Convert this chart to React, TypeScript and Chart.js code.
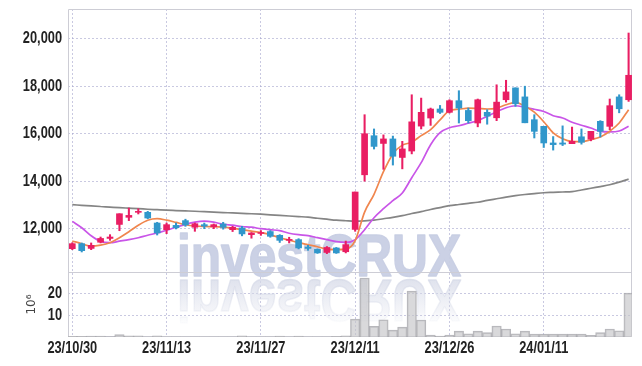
import React, { useEffect, useRef } from 'react';
import { Chart, registerables } from 'chart.js';

Chart.register(...registerables);

// ---- data ----
const DATES = [
  '23/10/30', '23/10/31', '23/11/01', '23/11/02', '23/11/03', '23/11/06', '23/11/07', '23/11/08', '23/11/09', '23/11/10',
  '23/11/13', '23/11/14', '23/11/15', '23/11/16', '23/11/17', '23/11/20', '23/11/21', '23/11/22', '23/11/23', '23/11/24',
  '23/11/27', '23/11/28', '23/11/29', '23/11/30', '23/12/01', '23/12/04', '23/12/05', '23/12/06', '23/12/07', '23/12/08',
  '23/12/11', '23/12/12', '23/12/13', '23/12/14', '23/12/15', '23/12/18', '23/12/19', '23/12/20', '23/12/21', '23/12/22',
  '23/12/26', '23/12/27', '23/12/28', '24/01/02', '24/01/03', '24/01/04', '24/01/05', '24/01/08', '24/01/09', '24/01/10',
  '24/01/11', '24/01/12', '24/01/15', '24/01/16', '24/01/17', '24/01/18', '24/01/19', '24/01/22', '24/01/23', '24/01/24',
];

const OPEN = [
  11160, 11370, 11170, 11430, 11590, 12180, 12480, 12690, 12690, 12240,
  11960, 12140, 12340, 12060, 12170, 12080, 12200, 11960, 12030, 11750,
  11800, 11880, 11720, 11510, 11540, 11230, 11130, 11000, 11190, 11030,
  11970, 14270, 15915, 15590, 15780, 15000, 15270, 16320, 16660, 17040,
  16900, 17390, 16980, 16450, 16900, 16670, 17430, 17930, 17550, 16590,
  16310, 15610, 15610, 15580, 15870, 15770, 16520, 16310, 17550, 17430,
];
const HIGH = [
  11410, 11400, 11400, 11650, 11750, 12630, 12870, 12840, 12730, 12270,
  12240, 12240, 12400, 12240, 12240, 12200, 12270, 12100, 12100, 11840,
  11920, 11920, 11750, 11640, 11580, 11300, 11150, 11250, 11210, 11480,
  13545, 16800, 16200, 15950, 15900, 15680, 17640, 17500, 17080, 17190,
  17430, 17810, 17080, 17460, 17010, 18060, 18250, 17930, 18000, 16800,
  16310, 15880, 16330, 16280, 16200, 16100, 16550, 17460, 17640, 20240,
];
const LOW = [
  11116, 11020, 11116, 11400, 11510, 11915, 12340, 12620, 12420, 11735,
  11790, 11990, 12100, 11890, 12000, 12000, 11980, 11880, 11700, 11600,
  11720, 11640, 11420, 11400, 11150, 11090, 10960, 10950, 10960, 10980,
  11890, 14000, 15355, 14500, 14680, 14520, 15150, 16200, 16350, 16850,
  16870, 16450, 16450, 16290, 16400, 16550, 17330, 17150, 16460, 15820,
  15420, 15310, 15500, 15580, 15560, 15700, 15860, 16170, 16880, 17360,
];
const CLOSE = [
  11370, 11074, 11300, 11590, 11650, 12630, 12560, 12730, 12450, 11820,
  12170, 12040, 12160, 12210, 12110, 12170, 12060, 12060, 11780, 11820,
  11840, 11680, 11510, 11550, 11190, 11170, 10980, 11210, 10980, 11330,
  13545, 16000, 15465, 15780, 15050, 15360, 16500, 16900, 17040, 16900,
  17390, 17080, 16550, 17430, 16740, 17330, 17760, 17260, 16460, 16100,
  15610, 15540, 15560, 15680, 15640, 16100, 16100, 17180, 17050, 18460,
];
// volume in millions
const VOLUME = [
  0.3, 0.3, 0.4, 0.4, 0.2, 1.1, 0.5, 0.5, 0.1, 0.5,
  0.1, 0.1, 0.1, 0.1, 0.1, 0.1, 0.1, 0.1, 0.5, 0.1,
  0.1, 0.1, 0.4, 0.1, 0.4, 0.1, 0.1, 0.1, 0.3, 0.5,
  8.3, 27.4, 4.9, 8.0, 3.2, 4.6, 21.3, 7.9, 0.9, 0.4,
  0.9, 2.7, 1.5, 2.7, 2.0, 5.1, 3.7, 1.5, 2.7, 1.3,
  1.3, 1.3, 1.3, 1.3, 1.3, 0.8, 2.0, 3.7, 2.9, 20.4,
];
const MA_SHORT = [
  11482, 11368, 11263, 11305, 11410, 11620, 11874, 12147, 12358, 12421,
  12358, 12265, 12168, 12114, 12093, 12084, 12063, 12021, 11958, 11895,
  11832, 11747, 11621, 11516, 11411, 11326, 11242, 11137, 11116, 11137,
  11500, 12700, 13450, 14400, 15150, 15520, 15640, 15920, 16170, 16580,
  16970, 17030, 17080, 17065, 17040, 17080, 17220, 17317, 17157, 16905,
  16505, 16040, 15790, 15675, 15663, 15747, 15860, 16105, 16450, 17010,
];
const MA_MID = [
  12307, 12042, 11705, 11465, 11411, 11474, 11537, 11621, 11726, 11819,
  11937, 12063, 12181, 12274, 12316, 12274, 12189, 12147, 12093, 12063,
  12000, 11958, 11916, 11810, 11747, 11705, 11621, 11537, 11453, 11423,
  11537, 11958, 12463, 12842, 13179, 13503, 14147, 14780, 15536, 16042,
  16252, 16336, 16442, 16547, 16736, 16926, 17094, 17178, 17115, 17031,
  16938, 16757, 16660, 16484, 16357, 16240, 16096, 16075, 16113, 16315,
];
const MA_LONG = [
  13010, 12985, 12960, 12935, 12910, 12885, 12865, 12845, 12820, 12800,
  12780, 12765, 12750, 12735, 12715, 12700, 12680, 12665, 12645, 12630,
  12610, 12585, 12560, 12535, 12510, 12485, 12440, 12400, 12360, 12335,
  12315, 12330, 12360, 12420, 12480, 12550, 12640, 12720, 12810, 12890,
  12970, 13020, 13070, 13115, 13190, 13260, 13330, 13390, 13440, 13480,
  13515, 13530, 13545, 13560, 13630, 13705, 13775, 13850, 13960, 14090,
];
const X_TICK_INDEX = [0, 10, 20, 30, 40, 50];
const PRICE_TICKS = [12000, 14000, 16000, 18000, 20000];
const VOLUME_TICKS = [10, 20];
const WATERMARK = 'investCRUX';

const RED = '#e91e63';
const BLUE = '#3197cb';
const LABEL_FONT = "bold 16px 'Liberation Sans', Arial, sans-serif";
const LABEL_SCALE = 0.8;
const GRID = {
  color: 'rgba(165,165,205,0.6)',
  lineWidth: 1,
  drawTicks: false,
  offset: false,
};
const BORDER = { display: false, dash: [2, 2] };

const watermarkPlugin = {
  id: 'watermark',
  beforeDatasetsDraw(chart: any) {
    const ctx = chart.ctx as CanvasRenderingContext2D;
    ctx.save();
    ctx.font = "bold 60px 'Liberation Sans', Arial, sans-serif";
    ctx.textBaseline = 'alphabetic';
    ctx.lineJoin = 'round';
    const w = ctx.measureText(WATERMARK).width;
    const sx = 284 / w;
    ctx.translate(177, 276);
    ctx.scale(sx, 1);
    ctx.fillStyle = 'rgba(200,207,228,0.95)';
    ctx.strokeStyle = 'rgba(200,207,228,0.95)';
    ctx.lineWidth = 1.6;
    ctx.fillText(WATERMARK, 0, 0);
    ctx.strokeText(WATERMARK, 0, 0);
    ctx.translate(0, 4);
    ctx.scale(1, -1);
    const g = ctx.createLinearGradient(0, 0, 0, -44);
    g.addColorStop(0, 'rgba(214,218,232,0.75)');
    g.addColorStop(1, 'rgba(214,218,232,0.05)');
    ctx.fillStyle = g;
    ctx.strokeStyle = g;
    ctx.fillText(WATERMARK, 0, 0);
    ctx.strokeText(WATERMARK, 0, 0);
    ctx.restore();
  },
};

const framePlugin = {
  id: 'frame',
  beforeDatasetsDraw(chart: any) {
    const ctx = chart.ctx as CanvasRenderingContext2D;
    const { left, right, top, bottom } = chart.chartArea;
    const mid = chart.scales.y.bottom;
    const L = Math.round(left) + 0.5;
    const R = Math.round(right) - 0.5;
    const T = Math.round(top) + 0.5;
    const B = Math.round(bottom) - 0.5;
    const M = Math.round(mid) + 0.5;
    ctx.save();
    ctx.strokeStyle = '#cdcdd5';
    ctx.lineWidth = 1;
    ctx.beginPath();
    ctx.moveTo(L, T);
    ctx.lineTo(R, T);
    ctx.lineTo(R, B);
    ctx.lineTo(L, B);
    ctx.closePath();
    ctx.moveTo(L, M);
    ctx.lineTo(R, M);
    ctx.stroke();
    ctx.restore();
  },
};

// tick labels drawn in a narrow (horizontally condensed) face
const labelPlugin = {
  id: 'labels',
  afterDraw(chart: any) {
    const ctx = chart.ctx as CanvasRenderingContext2D;
    const drawText = (text: string, x: number, y: number, align: 'right' | 'center') => {
      ctx.save();
      ctx.translate(x, y);
      ctx.scale(LABEL_SCALE, 1);
      ctx.textAlign = align;
      ctx.fillText(text, 0, 0);
      ctx.restore();
    };
    ctx.save();
    ctx.font = LABEL_FONT;
    ctx.fillStyle = '#222';
    ctx.textBaseline = 'middle';
    const y = chart.scales.y;
    const yv = chart.scales.yv;
    const x = chart.scales.x;
    const yRight = y.right - 6;
    PRICE_TICKS.forEach((v) => drawText(v.toLocaleString('en-US'), yRight, y.getPixelForValue(v), 'right'));
    VOLUME_TICKS.forEach((v) => drawText(String(v), yRight, yv.getPixelForValue(v), 'right'));
    X_TICK_INDEX.forEach((i) => drawText(DATES[i], x.getPixelForValue(i), x.top + 12, 'center'));
    ctx.restore();
  },
};

export default function App() {
  const ref = useRef<HTMLCanvasElement>(null);

  useEffect(() => {
    if (!ref.current) return;
    const idx = DATES.map((_, i) => i);
    const colors = idx.map((i) => (CLOSE[i] >= OPEN[i] ? RED : BLUE));
    const line = (vals: number[], color: string, order: number) => ({
      type: 'line' as const,
      data: idx.map((i) => ({ x: i, y: vals[i] })),
      borderColor: color,
      borderWidth: 1.7,
      pointRadius: 0,
      cubicInterpolationMode: 'monotone' as const,
      yAxisID: 'y',
      order,
    });

    const chart = new Chart(ref.current, {
      type: 'bar',
      data: {
        datasets: [
          {
            type: 'bar',
            data: idx.map((i) => ({ x: i, y: VOLUME[i] })),
            backgroundColor: 'rgba(196,196,200,0.65)',
            borderColor: 'rgba(165,165,170,0.8)',
            borderWidth: 1,
            barPercentage: 1,
            categoryPercentage: 1,
            grouped: false,
            yAxisID: 'yv',
            order: 10,
          } as any,
          line(MA_LONG, '#858585', 5),
          line(MA_MID, '#c955e8', 4),
          line(MA_SHORT, '#f0864e', 3),
          {
            type: 'bar',
            data: idx.map((i) => ({ x: i, y: [LOW[i], HIGH[i]] })),
            backgroundColor: colors,
            barThickness: 1.4,
            grouped: false,
            yAxisID: 'y',
            order: 2,
          } as any,
          {
            type: 'bar',
            data: idx.map((i) => ({ x: i, y: [OPEN[i], CLOSE[i]] })),
            backgroundColor: colors,
            barThickness: 6,
            grouped: false,
            yAxisID: 'y',
            order: 1,
          } as any,
        ],
      },
      options: {
        animation: false,
        responsive: false,
        devicePixelRatio: 1,
        layout: { padding: { left: 0, right: 10, top: 9, bottom: 0 } },
        plugins: { legend: { display: false }, tooltip: { enabled: false } },
        scales: {
          x: {
            type: 'linear',
            position: 'bottom',
            offset: false,
            min: -0.456,
            max: 59.36,
            border: BORDER,
            grid: GRID,
            ticks: { display: false },
            afterBuildTicks: (s: any) => {
              s.ticks = X_TICK_INDEX.map((v) => ({ value: v }));
            },
            afterFit: (s: any) => {
              s.height = 29;
            },
          },
          yv: {
            type: 'linear',
            position: 'left',
            stack: 'panels',
            stackWeight: 1,
            min: 0,
            max: 30.2,
            border: BORDER,
            grid: GRID,
            title: {
              display: true,
              text: '10\u2076',
              color: '#444',
              font: { family: "'DejaVu Sans', sans-serif", size: 12 },
              padding: { top: 25, bottom: 0 },
            },
            ticks: { display: false },
            afterBuildTicks: (s: any) => {
              s.ticks = VOLUME_TICKS.map((v) => ({ value: v }));
            },
            afterFit: (s: any) => {
              s.width = 68;
            },
          },
          y: {
            type: 'linear',
            position: 'left',
            stack: 'panels',
            stackWeight: 4.046,
            min: 10177,
            max: 21251,
            border: BORDER,
            grid: GRID,
            ticks: { display: false },
            afterBuildTicks: (s: any) => {
              s.ticks = PRICE_TICKS.map((v) => ({ value: v }));
            },
            afterFit: (s: any) => {
              s.width = 68;
            },
          },
        } as any,
      },
      plugins: [watermarkPlugin, framePlugin, labelPlugin],
    });
    return () => chart.destroy();
  }, []);

  return (
    <div style={{ position: 'absolute', left: 0, top: 0, width: 642, height: 366, background: '#fff' }}>
      <canvas ref={ref} width={642} height={366} style={{ display: 'block' }} />
    </div>
  );
}
